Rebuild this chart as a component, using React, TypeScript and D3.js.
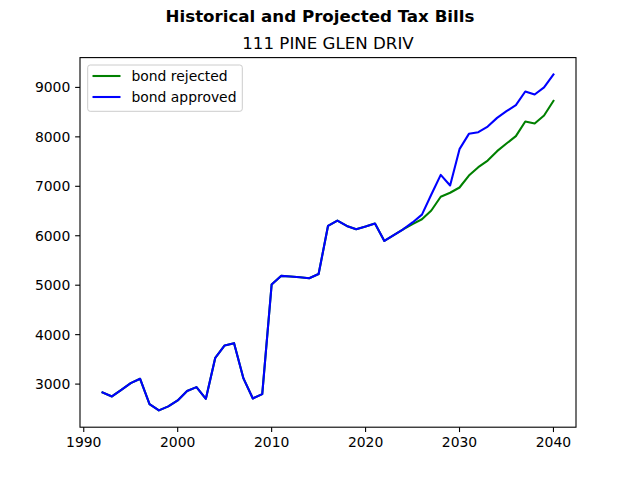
import React from "react";
import * as d3 from "d3";

const years: number[] = d3.range(1992, 2041);

const bondApproved: number[] = [
  2832, 2750, 2885, 3020, 3107, 2596, 2468, 2549, 2670, 2859,
  2939, 2703, 3532, 3782, 3828, 3115, 2710, 2798, 5014, 5188,
  5175, 5160, 5141, 5225, 6198, 6305, 6198, 6131, 6185, 6246,
  5895, 6015, 6131, 6269, 6428, 6834, 7232, 7016, 7751, 8061,
  8095, 8209, 8384, 8519, 8640, 8917, 8857, 9000, 9263,
];

const bondRejected: number[] = [
  2832, 2750, 2885, 3020, 3107, 2596, 2468, 2549, 2670, 2859,
  2939, 2703, 3532, 3782, 3828, 3115, 2710, 2798, 5014, 5188,
  5175, 5160, 5141, 5225, 6198, 6305, 6198, 6131, 6185, 6246,
  5895, 6015, 6131, 6236, 6333, 6511, 6788, 6869, 6976, 7218,
  7387, 7521, 7711, 7865, 8014, 8310, 8269, 8431, 8728,
];

const xTicks: number[] = [1990, 2000, 2010, 2020, 2030, 2040];
const yTicks: number[] = [3000, 4000, 5000, 6000, 7000, 8000, 9000];

const seriesNames: string[] = ["bond rejected", "bond approved"];
const seriesColors: string[] = ["green", "blue"];

const W = 640;
const H = 480;
const L = 80;
const R = 576;
const T = 57.6;
const B = 427.2;
const FONT = "DejaVu Sans, sans-serif";

export default function App() {
  const xMin = d3.min(years)!;
  const xMax = d3.max(years)!;
  const xPad = (xMax - xMin) * 0.05;
  const allVals = bondApproved.concat(bondRejected);
  const yMin = d3.min(allVals)!;
  const yMax = d3.max(allVals)!;
  const yPad = (yMax - yMin) * 0.05;

  const x = d3.scaleLinear().domain([xMin - xPad, xMax + xPad]).range([L, R]);
  const y = d3.scaleLinear().domain([yMin - yPad, yMax + yPad]).range([B, T]);

  const line = d3
    .line<number>()
    .x((_, i) => x(years[i]))
    .y((d) => y(d));

  const series = [bondRejected, bondApproved];
  const tickLen = 4.86;
  const pad = 4.86;

  return (
    <svg
      width={W}
      height={H}
      style={{ position: "absolute", left: 0, top: 0, display: "block" }}
      fontFamily={FONT}
    >
      <rect x={0} y={0} width={W} height={H} fill="white" />
      <text
        x={W / 2}
        y={22.3}
        textAnchor="middle"
        fontSize={16.67}
        fontWeight="bold"
        fill="black"
      >
        Historical and Projected Tax Bills
      </text>
      <text x={(L + R) / 2} y={48.8} textAnchor="middle" fontSize={16.67} fill="black">
        111 PINE GLEN DRIV
      </text>

      {series.map((s, i) => (
        <path
          key={i}
          d={line(s) || ""}
          fill="none"
          stroke={seriesColors[i]}
          strokeWidth={2.08}
          strokeLinejoin="round"
          strokeLinecap="square"
        />
      ))}

      <rect
        x={L}
        y={T}
        width={R - L}
        height={B - T}
        fill="none"
        stroke="black"
        strokeWidth={1.1}
      />

      {xTicks.map((t) => (
        <g key={t}>
          <line x1={x(t)} x2={x(t)} y1={B} y2={B + tickLen} stroke="black" strokeWidth={1.1} />
          <text
            x={x(t)}
            y={B + tickLen + pad + 10.4}
            textAnchor="middle"
            fontSize={13.9}
            fill="black"
          >
            {t}
          </text>
        </g>
      ))}

      {yTicks.map((t) => (
        <g key={t}>
          <line x1={L - tickLen} x2={L} y1={y(t)} y2={y(t)} stroke="black" strokeWidth={1.1} />
          <text
            x={L - tickLen - pad}
            y={y(t) + 5}
            textAnchor="end"
            fontSize={13.9}
            fill="black"
          >
            {t}
          </text>
        </g>
      ))}

      <g>
        <rect
          x={87.7}
          y={65}
          width={154.6}
          height={46.3}
          rx={2.5}
          fill="white"
          fillOpacity={0.8}
          stroke="#cccccc"
          strokeWidth={1}
        />
        {seriesNames.map((n, i) => (
          <g key={n}>
            <line
              x1={92.5}
              x2={120.5}
              y1={76 + i * 21}
              y2={76 + i * 21}
              stroke={seriesColors[i]}
              strokeWidth={2.08}
            />
            <text x={131.5} y={76 + i * 21 + 5} fontSize={13.9} fill="black">
              {n}
            </text>
          </g>
        ))}
      </g>
    </svg>
  );
}
